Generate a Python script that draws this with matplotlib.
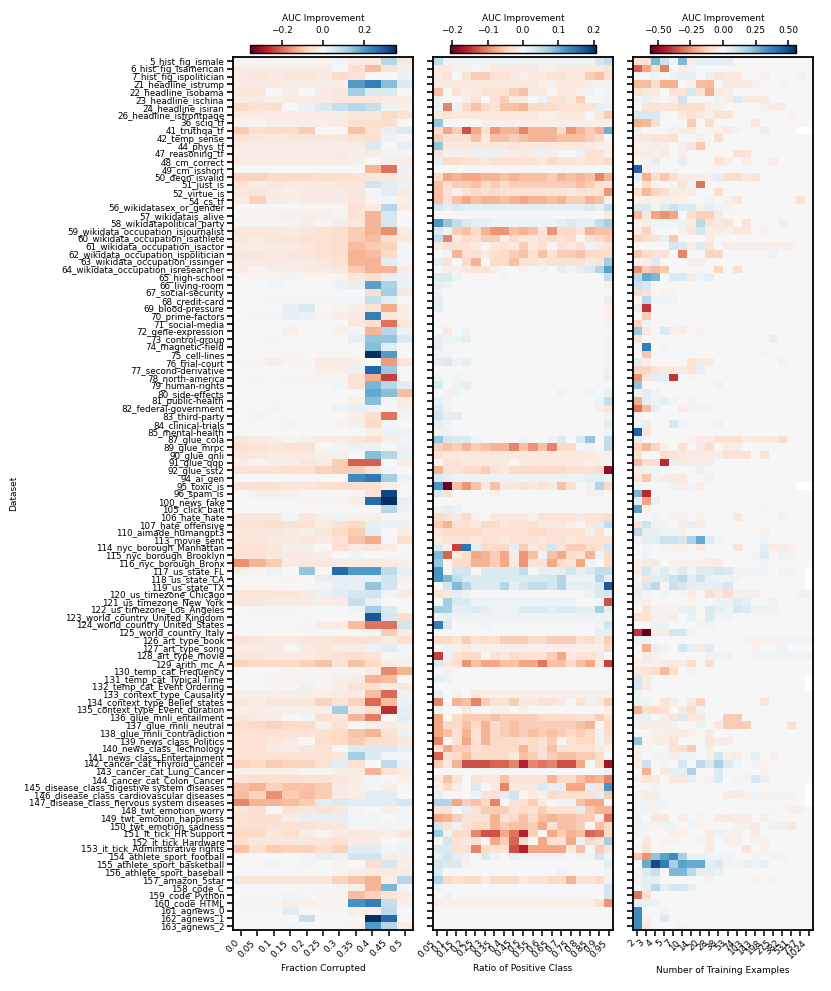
import numpy as np
import matplotlib
matplotlib.use('Agg')
import matplotlib.pyplot as plt

datasets = [
    '5_hist_fig_ismale', '6_hist_fig_isamerican', '7_hist_fig_ispolitician', '21_headline_istrump',
    '22_headline_isobama', '23_headline_ischina', '24_headline_isiran', '26_headline_isfrontpage',
    '36_sciq_tf', '41_truthqa_tf', '42_temp_sense', '44_phys_tf', '47_reasoning_tf', '48_cm_correct',
    '49_cm_isshort', '50_deon_isvalid', '51_just_is', '52_virtue_is', '54_cs_tf',
    '56_wikidatasex_or_gender', '57_wikidatais_alive', '58_wikidatapolitical_party',
    '59_wikidata_occupation_isjournalist', '60_wikidata_occupation_isathlete',
    '61_wikidata_occupation_isactor', '62_wikidata_occupation_ispolitician',
    '63_wikidata_occupation_issinger', '64_wikidata_occupation_isresearcher', '65_high-school',
    '66_living-room', '67_social-security', '68_credit-card', '69_blood-pressure', '70_prime-factors',
    '71_social-media', '72_gene-expression', '73_control-group', '74_magnetic-field', '75_cell-lines',
    '76_trial-court', '77_second-derivative', '78_north-america', '79_human-rights', '80_side-effects',
    '81_public-health', '82_federal-government', '83_third-party', '84_clinical-trials',
    '85_mental-health', '87_glue_cola', '89_glue_mrpc', '90_glue_qnli', '91_glue_qqp', '92_glue_sst2',
    '94_ai_gen', '95_toxic_is', '96_spam_is', '100_news_fake', '105_click_bait', '106_hate_hate',
    '107_hate_offensive', '110_aimade_humangpt3', '113_movie_sent', '114_nyc_borough_Manhattan',
    '115_nyc_borough_Brooklyn', '116_nyc_borough_Bronx', '117_us_state_FL', '118_us_state_CA',
    '119_us_state_TX', '120_us_timezone_Chicago', '121_us_timezone_New_York',
    '122_us_timezone_Los_Angeles', '123_world_country_United_Kingdom',
    '124_world_country_United_States', '125_world_country_Italy', '126_art_type_book',
    '127_art_type_song', '128_art_type_movie', '129_arith_mc_A', '130_temp_cat_Frequency',
    '131_temp_cat_Typical Time', '132_temp_cat_Event Ordering', '133_context_type_Causality',
    '134_context_type_Belief_states', '135_context_type_Event_duration', '136_glue_mnli_entailment',
    '137_glue_mnli_neutral', '138_glue_mnli_contradiction', '139_news_class_Politics',
    '140_news_class_Technology', '141_news_class_Entertainment', '142_cancer_cat_Thyroid_Cancer',
    '143_cancer_cat_Lung_Cancer', '144_cancer_cat_Colon_Cancer',
    '145_disease_class_digestive system diseases', '146_disease_class_cardiovascular diseases',
    '147_disease_class_nervous system diseases', '148_twt_emotion_worry', '149_twt_emotion_happiness',
    '150_twt_emotion_sadness', '151_it_tick_HR Support', '152_it_tick_Hardware',
    '153_it_tick_Administrative rights', '154_athlete_sport_football', '155_athlete_sport_basketball',
    '156_athlete_sport_baseball', '157_amazon_5star', '158_code_C', '159_code_Python', '160_code_HTML',
    '161_agnews_0', '162_agnews_1', '163_agnews_2',
]

frac_ticks = ['0.0', '0.05', '0.1', '0.15', '0.2', '0.25', '0.3', '0.35', '0.4', '0.45', '0.5']
ratio_ticks = ['0.05', '0.1', '0.15', '0.2', '0.25', '0.3', '0.35', '0.4', '0.45', '0.5', '0.55',
               '0.6', '0.65', '0.7', '0.75', '0.8', '0.85', '0.9', '0.95']
ntrain_ticks = ['2', '3', '4', '5', '7', '10', '14', '20', '28', '38', '53', '74', '103', '143',
                '198', '275', '382', '531', '737', '1024']

# AUC improvement, in hundredths (None = missing)
auc_frac = [
    [-1,-1,-1,-1,-1,-1,1,-3,-3,10,-4], [-3,-3,-3,-3,-3,-3,0,-6,-11,-5,2],
    [-3,-4,-3,-4,-4,-3,-7,-5,0,0,2], [-3,-3,-3,-2,-2,-2,-2,20,24,15,5],
    [-4,-4,0,-2,0,-3,-4,12,5,5,0], [-3,-3,-2,-3,-3,-3,-4,-4,-4,-3,-3],
    [-7,-5,-6,0,2,5,8,10,8,2,-2], [-3,-3,-3,-3,-3,-3,-2,-4,-4,-7,-5],
    [-1,-1,-2,-2,-2,-2,-3,-6,-6,-6,0], [-9,-6,-7,-7,-9,0,0,-10,-5,3,5],
    [-5,-4,-3,-4,-4,-4,-4,-5,-6,2,-1], [-3,-3,-3,-3,-3,-3,-2,-3,5,0,3],
    [-2,-2,-2,-2,-2,-2,-3,-2,-3,1,1], [-3,-3,-3,-3,-3,-3,-3,-2,0,-2,-3],
    [0,0,0,0,0,0,0,0,-12,-19,2], [-8,-8,-7,-7,-7,-6,-6,-5,-4,-4,-3],
    [-5,-2,-4,-3,-3,-3,-4,-4,7,4,2], [-4,-4,-3,-2,-3,-3,-3,-4,1,4,-3],
    [-3,-8,-3,-2,-3,-3,-3,-4,-1,1,-2], [0,0,0,0,-1,-1,-1,-5,-3,10,-3],
    [-1,-1,-1,-2,-2,-2,-1,-5,-12,6,0], [-1,-1,-1,-1,-2,-1,-3,-4,-12,6,0],
    [-4,-4,-4,-3,-4,-5,-6,-9,-12,-16,-3], [-4,-3,-4,-4,-5,-5,-6,-9,-11,-6,-4],
    [-3,-2,-3,-3,-4,-5,-6,-11,-9,-8,1], [-4,-4,-3,-4,-4,-5,-6,-12,-11,-7,1],
    [-3,-3,-3,-3,-3,-4,-5,-12,-12,4,1], [-3,-1,-2,-2,-3,-3,-4,-9,-12,-12,-3],
    [-1,-1,-1,1,-1,-1,-1,-4,-6,3,2], [0,0,1,0,0,0,2,3,19,11,2],
    [0,0,0,0,0,0,0,0,-6,12,-4], [0,0,-1,-1,-1,-1,1,1,8,4,0],
    [0,0,0,3,5,0,-1,-2,-5,-13,-2], [0,1,1,3,2,-1,-2,-3,24,-4,-2],
    [0,0,0,0,0,0,0,-4,-6,-19,-4], [0,0,0,-2,0,0,-2,1,-12,10,2],
    [0,0,-1,0,0,0,0,3,14,14,5], [0,0,0,0,0,0,0,0,15,4,0],
    [0,0,0,-1,0,-1,-1,-1,35,20,0], [-1,-1,-2,-1,-1,-3,-3,-2,0,-15,-4],
    [0,0,0,0,0,-2,-2,2,28,13,0], [0,-1,0,-1,-1,-1,-1,-5,-13,-24,0],
    [0,0,0,0,0,0,1,-5,16,10,4], [0,0,0,0,0,0,0,0,18,15,-11],
    [0,0,0,0,0,0,0,-2,15,-1,-3], [0,0,-1,0,0,0,2,3,2,0,-2],
    [0,-1,0,0,0,0,0,-2,-6,-19,1], [0,0,0,-1,0,0,-1,-2,-7,1,0],
    [0,0,0,0,0,0,0,0,-2,2,2], [-4,-3,-2,-1,-2,-3,-3,-4,-6,-2,1],
    [-6,-5,-4,-5,-5,0,1,2,2,0,2], [-4,-4,-3,-3,-3,-2,-2,0,15,10,2],
    [-2,-1,-2,-2,-4,-3,-9,-21,-21,0,-3], [-5,-5,-5,-6,-6,-8,-9,-9,-5,1,0],
    [0,0,0,0,0,0,0,22,25,12,2], [-5,-5,-5,-4,-4,-5,-6,-6,-6,-2,-1],
    [0,-2,-2,-2,-1,-1,0,-1,-5,32,0], [0,0,0,0,-1,-1,-1,-2,27,35,3],
    [0,0,0,0,0,0,0,0,0,10,2], [-4,-4,-4,1,-4,-2,2,-2,-2,-1,-1],
    [-5,-5,-6,-5,-5,-3,-5,-7,3,2,2], [-4,-4,-4,-3,-2,-4,-7,-9,4,0,-2],
    [-4,-4,-3,-3,-4,-3,-5,-10,-13,0,-6], [-5,-5,-4,-2,-2,0,-6,-3,-4,-3,0],
    [-5,-5,-4,-3,-3,-2,0,1,0,-1,-1], [-16,-12,-9,-3,-4,-4,-3,-3,-3,-3,-2],
    [-2,-1,2,0,14,0,27,20,20,9,3], [0,0,0,-1,0,3,3,3,3,7,-2],
    [-1,-1,0,0,0,1,3,3,14,7,-1], [-4,-4,-4,-4,-3,2,4,6,7,1,-3],
    [-4,-4,-3,-3,-3,-2,-3,8,3,0,0], [0,-1,-1,-1,0,0,0,1,12,5,0],
    [0,0,0,0,0,0,0,0,30,6,-6], [0,0,0,0,-1,-3,-3,-11,-19,-19,7],
    [0,0,0,0,0,0,0,0,-1,-9,-3], [-5,-4,-3,-3,-4,-4,-5,-5,-5,-3,-6],
    [-3,-3,-3,-1,-3,-4,-3,-3,2,4,1], [-4,-4,-3,-3,-3,-4,-5,-6,-5,-1,1],
    [-8,-7,-7,-7,-8,-10,-5,-10,-7,-3,-2], [0,0,0,-1,-1,-1,-1,-1,-3,-17,-12],
    [0,0,-1,-1,-1,-1,-2,-3,-12,-11,0], [0,0,-1,0,2,-1,-2,-5,-5,-3,-4],
    [-2,-2,-2,-2,-2,-2,-3,-3,-11,-20,2], [-4,-2,-4,-4,-4,-8,-5,-8,-20,-11,2],
    [-2,-2,-2,-2,-2,-2,12,-3,-6,-26,3], [-4,-3,-3,0,1,-6,-4,-12,-18,0,4],
    [-6,-7,-8,-7,-7,-2,-5,0,-2,-3,-2], [-5,-5,-5,-5,-5,-5,-7,-10,-12,-5,2],
    [-5,-5,-4,-3,0,-6,-7,-9,-6,-6,-4], [-5,-5,-3,-2,-4,-5,0,5,5,5,3],
    [-5,-5,-5,-5,-5,-5,-4,12,5,1,1], [-8,-7,-9,-8,-8,-5,4,-5,0,9,2],
    [-2,-2,-2,-2,-1,-1,-2,-3,-12,-5,-3], [-5,-6,-6,-6,-5,-5,-4,-2,1,0,-2],
    [-10,-12,-8,-10,-10,-9,-3,-2,1,-2,0], [-11,-8,-16,-9,-11,-9,-3,-2,4,4,0],
    [-17,-12,-12,-11,-9,4,5,4,4,4,6], [-4,-6,0,-5,-4,-5,-4,1,0,-2,1],
    [-5,-6,-6,-2,3,3,3,1,1,0,1], [-6,-6,-5,-5,-5,-4,-4,1,1,1,1],
    [-7,-7,-4,-6,-2,-1,-3,-4,-3,-2,-4], [-6,-4,-4,-4,-4,-4,-5,-3,-3,0,1],
    [-10,-6,-9,-8,-8,-6,-8,4,4,1,2], [0,0,0,0,1,3,2,7,7,-3,-2],
    [0,0,1,0,1,0,-1,0,-6,6,-2], [0,0,0,0,0,0,-1,-2,-3,-3,-3],
    [-4,-4,-4,-4,-4,-4,-8,-10,-12,-2,10], [0,0,0,0,0,0,-1,-2,-12,16,1],
    [0,0,0,1,0,-1,-1,-11,-8,-5,-3], [-1,-1,-1,-2,-2,-1,-1,21,24,8,-2],
    [0,0,0,4,0,0,0,-2,-2,9,0], [0,0,0,0,8,0,0,0,35,27,0],
    [0,0,0,1,0,0,0,-1,20,10,-2],
]

auc_ratio = [
    [5,1,1,1,1,1,1,1,1,1,1,1,1,1,1,1,1,4,5],
    [-2,-2,-1,-1,0,-1,-2,-2,-2,-2,-2,-1,-1,-2,-2,-2,-2,-2,-3],
    [-2,-3,0,-3,-5,-5,-3,-3,-2,-1,-2,-2,-3,-3,-2,-2,-5,-6,-3],
    [-2,-2,-2,-2,-2,-2,-2,-2,-2,-2,-2,-1,-1,-2,-2,-2,-1,-1,1],
    [-6,0,-3,-1,-2,-3,-3,-3,-5,-6,-2,-2,0,-2,-2,-1,1,0,1],
    [1,0,0,-1,-3,0,-3,-5,-2,-2,0,1,-3,-3,-2,-5,0,0,1],
    [1,-10,1,-4,-6,-4,-3,-6,-6,-7,-4,-4,-4,-3,-3,-3,-3,2,1],
    [-2,-3,-2,-2,-2,-2,-2,-2,-2,-2,-2,-1,-1,-2,-2,-2,0,-2,-5],
    [8,0,0,0,0,-1,-1,-1,-1,-1,-1,-1,-1,-1,-1,-1,-1,-1,-1],
    [-4,-8,-5,-13,-8,-3,-9,-7,-7,-10,-7,-7,-7,-4,-9,-7,-5,-7,10],
    [-5,-3,-3,-3,-6,-2,-6,-6,-5,-6,-7,-7,-7,-6,-6,-6,-5,-4,0],
    [8,-2,-2,-2,-2,-2,-2,-2,-3,-2,-2,-2,-2,-2,-2,-2,-2,-1,-1],
    [-3,1,-1,-1,1,1,1,-1,-1,-2,-1,1,-1,0,0,1,-3,-3,-1],
    [2,-4,-4,-3,-3,-2,-3,-3,-3,-3,-3,-2,-4,-3,-3,-2,-3,-3,-4],
    [0,0,0,0,0,0,0,0,0,0,0,0,0,0,0,0,0,0,0],
    [-4,-8,-7,-8,-8,-7,-7,-6,-7,-6,-6,-6,-5,-7,-6,-7,-6,-10,-7],
    [-6,-3,-5,-5,-6,-4,-5,-4,-5,-5,-5,-5,-5,-5,-5,-6,-5,-3,-3],
    [-6,-3,-1,-3,-4,-3,-4,-3,-3,-3,-3,-3,-3,-3,-2,-3,-3,-3,-9],
    [-6,-3,-6,-8,-6,-7,-7,-6,-7,-8,-7,-7,-6,-7,-5,-5,-7,-6,-1],
    [4,2,3,2,2,2,2,2,2,2,2,2,2,2,2,2,3,2,5],
    [0,0,0,0,0,0,0,0,0,0,0,0,0,0,0,0,0,0,-2],
    [12,8,5,3,2,2,1,1,1,1,1,1,1,2,3,2,2,5,7],
    [3,1,-5,-6,-4,-7,-9,-9,-6,-7,-6,-3,-9,-4,-4,-3,-7,-6,-6],
    [5,-10,-2,-4,-3,-5,-5,-1,-4,-2,-2,-3,-4,-3,-4,0,-3,-4,-5],
    [-2,-3,-3,-3,-2,0,-2,-3,-2,-5,-2,-3,0,-3,-2,-3,1,-2,-3],
    [0,1,-7,-3,-3,-2,-3,-4,-5,-6,-3,-6,-3,-5,-5,-6,-4,-4,-4],
    [2,-3,0,-4,-7,0,-4,-4,-6,-3,-3,-2,-3,-3,-3,-3,-2,-3,7],
    [0,-1,-1,-2,-3,-3,-1,0,0,-1,0,1,0,2,1,2,3,6,11],
    [3,3,1,0,0,0,0,1,0,0,0,0,0,0,0,0,0,0,5],
    [2,1,0,0,0,0,0,0,0,0,0,0,0,0,0,0,0,0,-1],
    [1,0,0,0,0,0,0,0,0,0,0,0,0,0,0,0,0,0,0],
    [2,0,0,0,0,0,0,0,0,0,0,0,0,0,0,0,0,0,2],
    [2,0,0,0,0,0,0,0,0,0,0,0,0,0,0,0,0,0,-1],
    [0,0,0,0,0,0,0,0,0,0,0,0,0,0,0,0,0,0,-1],
    [0,0,0,0,0,0,0,0,0,0,0,0,0,0,0,0,0,0,-1],
    [0,-2,0,1,0,0,0,0,0,0,0,0,0,0,0,0,0,0,0],
    [2,1,1,2,0,0,0,0,0,0,0,0,0,0,0,0,0,0,1],
    [2,0,0,0,0,0,0,0,0,0,0,0,0,0,0,0,0,0,-1],
    [1,1,0,0,0,0,0,0,0,0,0,0,0,0,0,0,0,0,1],
    [2,3,1,2,0,0,0,0,0,0,0,0,0,0,0,0,0,0,-1],
    [0,0,0,0,0,0,0,0,0,0,0,0,0,0,0,0,0,0,1],
    [1,0,1,0,0,0,0,0,0,0,0,0,0,0,0,0,0,0,2],
    [3,0,1,2,0,0,0,0,0,0,0,0,0,0,0,0,0,0,0],
    [0,-1,1,0,0,0,0,0,0,0,0,0,0,1,0,0,1,0,2],
    [2,1,0,0,0,0,0,0,0,0,0,0,0,0,0,0,0,1,5],
    [3,-1,0,0,0,0,0,0,0,0,0,0,0,0,0,0,0,-1,-3],
    [4,2,2,0,0,0,0,0,0,0,0,0,0,0,0,0,0,0,1],
    [2,1,0,0,0,0,0,0,0,0,0,0,0,0,0,0,0,0,2],
    [1,1,0,0,0,0,0,0,0,0,0,0,0,0,0,0,0,0,1],
    [8,4,3,3,1,0,0,0,0,1,0,0,1,3,0,3,8,0,5],
    [-5,-6,-5,-7,-5,-6,-7,-7,-10,-6,-9,-6,-10,-4,-4,0,-1,0,5],
    [-3,-2,-2,-2,-2,-2,-2,-2,-2,-2,-2,-2,-2,-2,-2,-2,-2,-1,-1],
    [0,-3,-3,-2,-2,-2,-2,-2,0,-2,-2,-2,-2,-2,-2,-2,-1,-1,1],
    [-7,-3,-3,-4,-4,-5,-3,-2,-4,-4,-4,-4,-4,-4,-3,-3,-3,-4,-18],
    [3,2,1,1,1,1,1,1,1,1,1,1,1,1,1,1,2,2,1],
    [12,-20,-6,-9,-6,-2,-6,-2,-2,-3,-2,-3,-2,-6,-3,0,1,6,-4],
    [3,-3,0,0,0,0,-1,0,0,0,0,0,0,0,0,0,-1,1,0],
    [0,0,0,0,0,0,0,0,0,0,0,0,0,0,0,0,0,0,0],
    [1,2,1,0,0,0,0,0,0,0,0,0,0,0,0,0,0,0,0],
    [-4,-3,-2,-4,-1,0,-2,-2,-2,-2,-1,-3,-3,-3,-3,-2,-3,-3,-4],
    [-5,-7,-3,-3,-2,-4,-4,-2,-3,-3,-3,-2,-2,-2,-1,0,-2,2,5],
    [-3,-4,-4,-4,-4,-3,-3,-3,-3,-3,-4,-4,-3,-3,-3,-3,-1,-3,0],
    [-2,-3,-3,-3,-2,-3,-3,-2,-3,-3,-3,-2,-3,-3,-2,-3,-3,-3,-3],
    [3,-1,-14,15,2,-4,-4,-4,2,-5,-2,-3,4,-3,-5,-5,-4,-3,4],
    [9,-12,-2,-4,-8,-7,-5,-8,-2,-9,-6,1,-6,-8,-4,-3,-7,1,-4],
    [8,0,-4,-4,-7,-7,-5,-8,-2,-9,-3,-3,-8,-4,-3,-8,1,0,-4],
    [12,0,4,4,0,3,3,3,3,5,0,2,2,2,4,2,3,5,5],
    [12,9,5,3,3,3,3,3,3,3,3,3,4,6,1,1,1,6,2],
    [0,4,9,6,3,3,3,6,2,4,5,5,4,6,2,2,2,3,17],
    [-3,-2,2,1,0,0,0,0,0,0,0,0,0,0,0,0,1,3,4],
    [0,7,3,3,1,1,1,1,1,1,1,1,1,1,1,0,0,0,-13],
    [7,7,2,2,3,2,1,1,1,3,3,3,2,3,3,2,2,7,2],
    [1,2,1,1,1,1,1,1,1,1,1,1,1,1,1,1,1,1,1],
    [14,3,0,0,0,1,0,0,0,0,0,0,0,0,0,0,0,1,4],
    [0,0,0,0,0,0,0,0,0,0,0,0,0,0,0,0,0,2,2],
    [-4,-4,-3,-5,-3,-4,-3,-5,-5,-5,-4,-4,-5,-5,-5,-3,-4,-2,-5],
    [0,1,-1,-2,-1,-1,-1,-1,-1,-1,-1,-1,-1,-1,-1,-1,-1,-1,-4],
    [-14,1,-3,-4,-4,0,-3,-2,-4,-3,-3,-3,-5,-8,-2,-3,-3,-2,0],
    [3,-2,-3,-9,-6,-8,-8,-6,-6,-8,-8,-11,-6,-6,-4,-6,-8,-2,-14],
    [0,-1,0,0,0,0,0,0,0,0,0,0,0,0,0,0,0,0,0],
    [2,1,0,0,0,0,0,0,0,0,0,0,0,0,0,0,0,0,0],
    [0,0,0,0,0,0,0,0,0,0,0,0,0,0,0,0,0,0,0],
    [2,0,-1,0,-2,-1,-1,-1,-1,-1,-1,-1,-1,-1,-1,-1,-1,-1,-1],
    [-10,0,-7,-6,-10,-5,-3,-3,-5,-2,-2,-3,-3,-2,0,-3,1,-2,-5],
    [1,0,0,-2,0,0,-1,-1,0,-1,0,0,0,0,0,0,0,0,-1],
    [-8,0,-4,-5,-5,-5,-6,-5,-5,-5,-5,-4,-4,-4,-4,-3,-3,-5,-3],
    [-8,-4,-4,-6,-4,-7,-4,-5,-6,-5,-5,-5,-5,-5,-5,-6,-7,0,-4],
    [-8,-6,-3,-7,-3,-7,-4,-5,-6,-5,-6,-5,-6,-5,-4,-5,-4,1,-4],
    [-10,0,-3,-8,-3,-7,-4,-4,-4,-3,-4,-3,-5,0,-3,-4,-4,1,-3],
    [-3,-8,-5,-5,-3,-4,-4,-4,-4,-7,-4,-3,-6,-3,-3,-3,-3,-2,-1],
    [-12,-3,-4,-6,-4,-4,-4,-4,-2,-6,-5,-3,-5,-6,-6,-5,-5,-4,0],
    [-5,-2,-7,-13,-13,-13,-12,-12,-10,-16,-10,-11,-10,-13,-13,-8,0,-4,-17],
    [0,0,0,0,0,0,0,0,0,0,0,0,0,0,0,0,0,0,1],
    [-2,-6,-3,0,-3,-2,-2,-6,-3,-3,-3,-3,-7,-4,-4,-6,-8,-7,-10],
    [-1,-4,-1,0,3,0,-2,-10,-2,-2,-2,3,2,2,-8,-8,2,-3,12],
    [2,0,0,0,1,-3,-3,2,4,0,-2,-1,-4,-3,-3,-3,-3,2,-5],
    [6,6,-8,-5,-6,-4,-10,0,-3,-3,-5,-2,0,1,1,-6,-8,-8,0],
    [-3,-3,0,2,-3,-5,-5,-5,-3,-4,-3,-5,-3,-3,-3,2,-5,-7,-7],
    [-8,-7,-5,-3,-3,-3,-7,-3,-4,-6,-4,-6,-7,-6,-6,-5,-5,-1,-11],
    [4,-3,1,-3,-4,-4,-7,-5,-6,-6,-5,-8,-3,-6,-6,-5,0,-6,-4],
    [7,1,-4,-4,-10,-13,-13,-8,-11,-16,-5,0,-8,-5,-7,-6,-12,-11,-4],
    [0,4,-3,-2,-3,0,-8,-5,-12,-4,0,-8,-3,-3,-8,1,-4,-3,7],
    [3,3,-3,-3,-10,-4,-3,-3,-13,-16,-8,-8,-8,-8,-2,-6,0,-5,-3],
    [2,4,2,1,0,3,1,0,2,1,1,1,1,1,0,1,1,4,1],
    [4,3,3,-1,0,0,0,0,0,0,0,0,0,0,0,0,0,0,2],
    [3,0,0,0,0,0,0,0,0,0,0,0,0,1,0,0,0,0,1],
    [6,-4,-3,-4,-4,-2,-4,-4,-4,-2,-3,-3,-4,-4,-7,-3,-3,-4,-1],
    [1,0,0,0,0,0,0,0,0,0,0,0,0,0,0,0,0,0,4],
    [0,1,0,0,0,0,0,0,0,0,0,0,0,0,0,0,0,0,4],
    [-1,-1,-1,-1,-1,-1,-1,-1,-1,-1,-1,-1,-1,-1,-1,-1,-1,-3,-9],
    [0,0,0,0,0,0,0,0,0,0,0,0,0,0,0,0,0,0,0],
    [0,0,0,0,0,0,0,0,0,0,0,0,0,0,0,0,0,0,0],
    [0,0,0,0,0,0,0,0,0,0,0,0,0,0,0,0,0,0,0],
]

N = None
auc_ntrain = [
    [-8,-8,25,12,3,25,-4,5,5,5,5,0,0,0,0,0,0,0,0,0],
    [-33,-22,-10,-28,0,-4,3,0,0,0,0,0,0,0,0,0,0,0,0,0],
    [0,0,3,0,3,4,5,0,4,-7,-5,-5,0,0,-3,0,0,0,-3,0],
    [-17,-17,-10,-20,-20,0,-3,-17,-18,0,-5,-5,-5,-3,0,0,-2,0,0,0],
    [-8,-5,-5,0,-8,-8,10,-8,-20,-5,-4,0,0,0,0,0,0,0,0,0],
    [2,4,-3,0,-3,12,0,0,0,2,-4,8,-5,-5,-5,0,0,0,0,0],
    [0,-7,-7,-7,-7,-10,-10,-10,-3,-3,0,0,0,0,-3,-4,-4,0,0,0],
    [8,8,8,0,0,-5,-8,-5,-3,-8,-8,0,0,0,0,0,0,-3,0,0],
    [-20,-18,-10,0,0,0,-14,0,-10,0,0,0,0,-6,0,0,0,0,0,0],
    [3,0,0,1,-3,-4,-6,0,-2,-2,-5,2,0,0,4,0,0,0,N,N],
    [-5,-6,-8,-8,-10,0,0,-3,0,-10,0,0,0,0,0,0,0,0,0,0],
    [-2,-3,-4,-3,0,-3,-7,-15,0,0,0,0,0,0,0,0,0,0,0,0],
    [-4,-4,-3,-5,0,-3,0,0,0,0,0,-8,-8,0,0,0,0,0,0,0],
    [0,2,5,0,0,5,0,0,0,-7,-4,0,-4,0,0,-4,0,0,0,0],
    [45,-3,2,0,0,0,0,0,0,0,0,0,0,0,0,0,0,0,0,0],
    [4,-20,-10,-15,-10,-4,-4,-4,-3,5,-10,-10,-5,-8,0,0,0,0,0,0],
    [0,-10,2,0,2,-8,2,-30,0,0,0,0,0,0,0,0,0,0,0,0],
    [-10,-18,-12,-10,-4,-4,-4,0,0,-10,0,0,0,0,0,0,0,0,0,0],
    [-3,-3,-3,-3,-3,-2,0,0,2,0,-3,-6,0,0,0,0,0,0,-8,0],
    [8,8,-2,7,12,7,8,-3,5,2,-2,0,0,0,0,0,0,0,0,0],
    [-18,-6,-22,-25,-22,0,-10,-13,-13,-5,0,0,0,0,0,0,0,0,0,0],
    [-3,-4,2,2,2,3,-4,15,-7,-5,-7,0,-7,0,0,0,-4,0,0,0],
    [-4,-13,0,0,0,-3,-7,10,-4,-4,-3,-6,-6,0,-3,0,0,0,0,0],
    [-13,-10,-7,4,-15,0,0,0,-4,0,0,0,0,0,0,0,0,0,0,0],
    [0,0,0,0,10,8,-4,8,-7,0,-4,-3,-3,-3,-3,-3,-3,-3,0,0],
    [-15,-10,-7,-8,0,-27,0,0,-12,-12,0,0,0,0,0,3,0,0,0,0],
    [2,-4,7,0,0,0,-3,-3,0,0,0,0,0,0,0,0,0,0,0,0],
    [-25,-14,-17,-15,0,0,0,0,0,-12,0,-10,0,0,0,0,0,0,0,0],
    [15,28,25,0,8,8,-4,3,5,0,0,0,0,0,0,0,0,0,0,0],
    [12,10,0,0,0,0,0,0,0,0,0,0,0,0,0,0,0,0,0,0],
    [-10,-8,0,-2,-2,0,0,0,0,0,0,0,0,0,0,0,0,0,0,0],
    [0,15,3,2,2,0,0,0,0,0,0,0,0,0,0,0,0,0,0,0],
    [5,-40,0,0,0,0,0,0,0,0,0,0,0,0,0,0,0,0,0,0],
    [0,-14,0,0,0,0,0,0,0,0,0,0,0,0,0,0,0,0,0,0],
    [-12,3,0,0,0,0,0,0,0,0,0,0,0,0,0,0,0,0,0,0],
    [20,-6,0,8,-3,-4,0,-3,0,0,0,0,0,0,0,0,0,0,0,0],
    [-7,0,0,0,0,0,0,0,0,0,0,0,0,0,0,4,0,0,0,0],
    [0,38,0,-2,0,0,0,0,0,0,0,0,0,0,0,0,0,0,0,0],
    [0,-15,0,0,0,0,0,0,0,0,0,0,0,0,-2,0,0,0,0,0],
    [6,-3,0,0,0,0,-7,-5,-5,0,0,0,0,0,0,0,-3,0,0,0],
    [-12,-12,-7,-6,-6,-5,-8,5,0,0,0,0,0,0,0,0,0,0,0,0],
    [-25,-7,5,5,-40,0,-2,0,0,0,0,0,0,0,0,0,0,0,0,0],
    [22,0,0,0,0,0,0,0,0,3,0,0,0,0,0,0,0,0,0,0],
    [3,6,3,0,0,0,0,0,0,0,0,0,0,0,0,0,0,0,0,0],
    [-20,5,3,5,2,0,2,0,0,0,0,0,0,0,0,0,0,0,0,0],
    [-30,-17,5,0,0,-4,-2,3,-3,0,0,0,0,0,0,0,0,0,0,0],
    [-2,0,0,0,0,0,0,0,0,0,0,0,0,0,0,0,0,0,0,0],
    [2,5,0,0,10,3,0,0,0,3,0,0,0,0,0,0,0,0,0,0],
    [45,-7,0,0,0,0,0,0,0,0,0,0,0,0,0,0,0,0,0,0],
    [5,0,0,0,0,0,-3,-4,-4,-8,-8,-8,-4,-6,-6,-6,-10,0,0,0],
    [-12,-18,-12,-3,0,-8,0,-5,-10,0,-4,-4,0,0,0,0,0,0,0,0],
    [-8,0,0,-10,-8,-5,-5,-5,-4,-4,-8,-8,-8,0,-7,0,0,0,0,0],
    [-17,-10,-10,-42,5,-5,-4,-4,-4,0,0,0,0,0,0,0,0,0,0,0],
    [-4,2,2,0,0,0,0,3,0,0,0,0,0,0,0,0,0,0,0,0],
    [-6,-15,3,-4,-5,-5,0,0,3,0,0,0,0,0,0,0,0,0,0,0],
    [2,0,0,0,3,-3,2,-4,0,0,0,0,0,0,0,0,0,0,N,N],
    [25,-42,0,0,0,0,0,0,0,0,0,0,0,0,0,0,0,0,0,0],
    [5,-22,5,0,0,0,0,0,0,0,0,0,0,0,0,0,0,0,0,0],
    [30,-3,0,0,0,0,0,0,0,0,0,0,0,0,-2,0,0,0,0,0],
    [0,0,2,0,-2,-3,0,-3,0,0,0,-6,0,0,0,0,3,0,0,0],
    [-7,12,-3,3,0,-3,5,-4,0,0,0,0,0,0,0,0,0,0,0,0],
    [15,4,4,2,2,-3,0,0,0,0,0,0,0,0,-3,0,0,0,0,0],
    [-2,5,5,12,12,10,17,28,7,2,0,0,0,0,2,0,0,0,0,0],
    [0,2,0,-2,-2,-3,0,-4,0,0,0,-8,0,0,5,-4,-4,-3,0,0],
    [0,2,0,0,0,0,0,0,0,0,0,0,0,-3,7,0,3,-2,0,0],
    [-3,-5,-5,0,-3,-3,-3,-3,-4,-4,0,0,0,0,2,0,0,0,0,0],
    [-4,10,3,7,3,7,2,7,7,10,8,2,2,2,3,0,2,2,0,N],
    [-2,-8,6,7,12,15,6,12,4,3,3,2,0,0,0,0,0,0,0,N],
    [-3,10,15,0,12,10,5,5,5,5,10,0,0,0,0,0,0,0,0,N],
    [4,-2,0,3,0,-2,-4,0,-10,-5,-10,-3,-3,-3,0,0,0,0,3,3],
    [-3,-3,0,0,0,0,-2,0,0,3,3,7,5,0,0,3,0,0,0,0],
    [0,-7,-2,-2,-2,4,4,0,8,5,3,10,7,3,3,3,0,0,0,0],
    [-8,-8,-3,-3,-4,0,4,0,8,2,2,0,0,0,0,0,0,0,0,0],
    [0,0,3,3,0,0,0,-2,3,0,0,0,0,0,0,0,0,0,0,0],
    [-40,-56,-4,-4,10,10,3,0,0,0,0,0,0,0,0,0,0,0,0,0],
    [2,3,0,0,0,0,0,0,0,0,0,0,-3,-3,-2,-3,2,2,2,2],
    [0,-20,4,2,0,10,4,-4,6,0,0,0,0,-3,0,0,3,0,0,0],
    [0,-5,-3,0,0,0,0,0,3,3,3,0,0,2,3,3,3,3,3,3],
    [-3,-3,-3,-4,-6,-4,-10,0,-10,0,0,0,0,0,0,0,0,0,0,0],
    [-5,-7,-10,-18,-10,0,-3,0,0,0,0,0,0,0,0,0,0,0,0,0],
    [10,-5,0,0,0,0,0,0,0,0,0,0,0,0,0,0,0,0,0,N],
    [10,-5,0,0,0,0,0,0,0,0,0,0,0,0,0,0,0,0,0,N],
    [3,0,0,0,0,0,0,0,0,0,0,0,0,0,0,0,0,0,0,0],
    [3,3,0,-8,-4,0,-6,-13,0,0,0,0,0,0,-7,0,0,0,0,0],
    [-20,-10,-10,-8,0,-5,-10,2,0,0,0,0,0,0,0,0,0,0,0,0],
    [4,4,0,-3,-8,8,-6,-6,0,0,-14,-14,0,0,0,0,0,0,0,0],
    [-4,-4,-4,-4,3,0,0,3,0,-6,-14,-14,-14,0,0,0,0,-8,0,0],
    [0,0,-3,-3,-4,-5,-3,0,-5,0,0,0,0,0,0,0,0,0,0,0],
    [22,-2,-4,-4,-8,0,0,0,-7,-4,-4,0,0,0,0,0,0,0,0,0],
    [-3,-2,0,0,-7,-10,-14,0,-4,0,0,0,0,0,0,0,0,0,0,0],
    [-3,0,2,2,-4,3,3,0,-3,10,-3,-4,0,5,0,-3,0,0,0,0],
    [-3,12,0,2,0,10,0,15,8,18,8,2,0,2,-2,0,0,0,0,0],
    [0,-20,0,-6,5,5,17,0,0,8,0,0,0,0,-2,0,0,0,0,0],
    [-3,-7,-6,0,-6,-6,4,0,-3,8,0,-2,2,10,4,0,0,0,0,0],
    [0,0,2,0,0,0,0,0,0,0,0,0,0,0,0,0,0,0,0,N],
    [2,-4,-4,0,0,0,0,0,0,0,-4,-4,-3,2,-3,2,2,-3,0,N],
    [2,2,2,2,0,0,0,0,0,0,0,0,0,0,0,0,0,0,0,N],
    [2,2,-3,0,0,0,0,0,0,0,0,0,0,0,0,-2,0,-3,-3,0],
    [3,0,-6,-6,0,-4,0,-2,0,-5,-5,-4,-4,0,-3,0,0,0,0,0],
    [3,2,-2,2,2,0,2,-2,0,0,0,-3,-3,-5,0,3,3,-5,0,0],
    [2,-2,0,0,-3,-3,0,0,-4,3,-3,-3,0,-5,0,0,0,0,0,0],
    [0,-5,0,-2,-2,0,0,2,-4,0,-3,-3,0,2,-3,0,0,0,0,0],
    [0,-7,0,0,0,0,0,0,-5,0,0,0,-7,0,-3,0,0,0,0,0],
    [-15,-25,22,30,35,18,4,4,3,2,2,0,0,2,0,2,2,0,0,0],
    [0,28,50,38,18,30,28,28,5,8,2,2,4,3,4,0,0,0,0,0],
    [-2,8,13,0,25,25,15,5,5,4,0,0,0,0,0,0,0,0,0,0],
    [-3,5,5,0,0,0,0,0,-3,0,0,0,0,-3,0,-3,0,0,0,0],
    [0,5,15,5,10,10,5,0,0,0,0,0,0,0,0,0,0,0,0,0],
    [-30,-10,0,0,0,0,0,0,0,0,0,0,0,0,0,0,0,0,0,0],
    [5,4,4,0,0,0,0,0,0,0,0,0,0,0,0,0,0,0,0,0],
    [35,0,0,2,0,0,0,0,0,0,0,0,0,0,0,0,0,0,0,0],
    [35,-3,0,8,0,0,0,0,0,0,0,0,0,0,0,0,0,0,0,0],
    [35,-6,0,0,0,2,0,0,0,0,0,0,0,0,0,0,0,0,0,0],
]

panels = [
    (auc_frac, frac_ticks, 'Fraction Corrupted', 0.352, [-0.2, 0.0, 0.2]),
    (auc_ratio, ratio_ticks, 'Ratio of Positive Class', 0.205, [-0.2, -0.1, 0.0, 0.1, 0.2]),
    (auc_ntrain, ntrain_ticks, 'Number of Training Examples', 0.557, [-0.5, -0.25, 0.0, 0.25, 0.5]),
]

W, H = 831, 991
fig = plt.figure(figsize=(W / 100, H / 100), dpi=100)

cmap = plt.get_cmap('RdBu').copy()
cmap.set_bad('white')

lefts = [232.7, 432.7, 632.7]
pw = 180.6
top, bottom = 57.3, 930.0

for i, (vals, xt, xlabel, vmax, cticks) in enumerate(panels):
    arr = np.array(vals, dtype=float) / 100.0
    ax = fig.add_axes([lefts[i] / W, 1 - bottom / H, pw / W, (bottom - top) / H])
    im = ax.imshow(np.ma.masked_invalid(arr), cmap=cmap, vmin=-vmax, vmax=vmax,
                   aspect='auto', interpolation='nearest')
    ax.set_xticks(range(len(xt)))
    ax.set_xticklabels(xt, rotation=45, ha='right', fontsize=6.5)
    ax.set_yticks(range(len(datasets)))
    if i == 0:
        ax.set_yticklabels(datasets, fontsize=6.3)
        ax.set_ylabel('Dataset', fontsize=6.5)
    else:
        ax.set_yticklabels([])
    ax.set_xlabel(xlabel, fontsize=6.5)
    ax.tick_params(axis='y', length=4, width=1.2, pad=2)
    ax.tick_params(axis='x', length=4, width=1.1, pad=2)
    for s in ax.spines.values():
        s.set_linewidth(1.3)

    # colorbar above panel
    cw = pw * 0.805
    cl = lefts[i] + (pw - cw) / 2
    cax = fig.add_axes([cl / W, 1 - 52.7 / H, cw / W, 8 / H])
    cb = fig.colorbar(im, cax=cax, orientation='horizontal', ticks=cticks)
    cax.xaxis.set_ticks_position('top')
    cax.xaxis.set_label_position('top')
    cb.set_label('AUC Improvement', fontsize=6.5, labelpad=4)
    cax.tick_params(labelsize=6.5, length=3.8, width=1.1, pad=3)
    cb.outline.set_linewidth(1.0)

fig.savefig('out.png', dpi=100)
